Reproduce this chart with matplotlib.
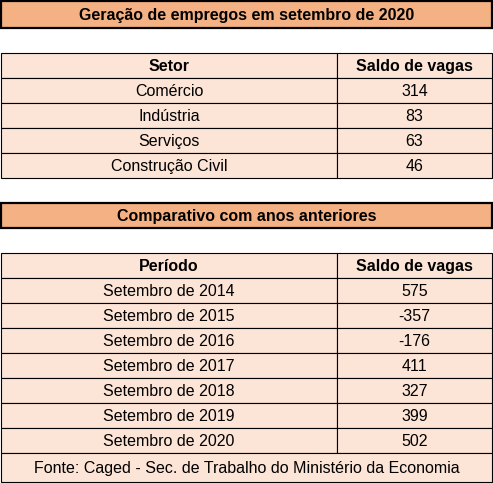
import matplotlib.pyplot as plt
from matplotlib.patches import Rectangle

title1 = "Geração de empregos em setembro de 2020"
header1 = ["Setor", "Saldo de vagas"]
setores = ["Comércio", "Indústria", "Serviços", "Construção Civil"]
saldo_setor = [314, 83, 63, 46]

title2 = "Comparativo com anos anteriores"
header2 = ["Período", "Saldo de vagas"]
periodos = ["Setembro de 2014", "Setembro de 2015", "Setembro de 2016", "Setembro de 2017",
            "Setembro de 2018", "Setembro de 2019", "Setembro de 2020"]
saldo_periodo = [575, -357, -176, 411, 327, 399, 502]

fonte = "Fonte: Caged - Sec. de Trabalho do Ministério da Economia"

W, H = 493, 483
ROW = 25
X0, X1, XS = 1, 492, 337
ORANGE = "#f4b183"
PEACH = "#fce4d6"

fig = plt.figure(figsize=(W / 100, H / 100), dpi=100)
ax = fig.add_axes([0, 0, 1, 1])
ax.set_xlim(0, W)
ax.set_ylim(H, 0)
ax.axis("off")
FONT = dict(family="Liberation Sans", fontsize=11.5)


def band(y, h, color, text, bold=False, lw=1.0):
    ax.add_patch(Rectangle((X0, y), X1 - X0, h, facecolor=color, edgecolor="black", lw=lw))
    ax.text((X0 + X1) / 2, y + h / 2 + 1, text, ha="center", va="center",
            fontweight="bold" if bold else "normal", **FONT)


def two_col(y, left, right, bold=False):
    for xa, xb, t in [(X0, XS, left), (XS, X1, right)]:
        ax.add_patch(Rectangle((xa, y), xb - xa, ROW, facecolor=PEACH, edgecolor="black", lw=0.8))
        ax.text((xa + xb) / 2, y + ROW / 2 + 1, str(t), ha="center", va="center",
                fontweight="bold" if bold else "normal", **FONT)


y = 1
band(y, 27, ORANGE, title1, bold=True, lw=1.6)
y = 53
two_col(y, *header1, bold=True)
for s, v in zip(setores, saldo_setor):
    y += ROW
    two_col(y, s, v)
y = 203
band(y, ROW, ORANGE, title2, bold=True, lw=1.6)
y = 253
two_col(y, *header2, bold=True)
for p, v in zip(periodos, saldo_periodo):
    y += ROW
    two_col(y, p, v)
y += ROW
band(y, H - 1 - y, PEACH, fonte, lw=0.8)

fig.savefig("out.png", dpi=100)
